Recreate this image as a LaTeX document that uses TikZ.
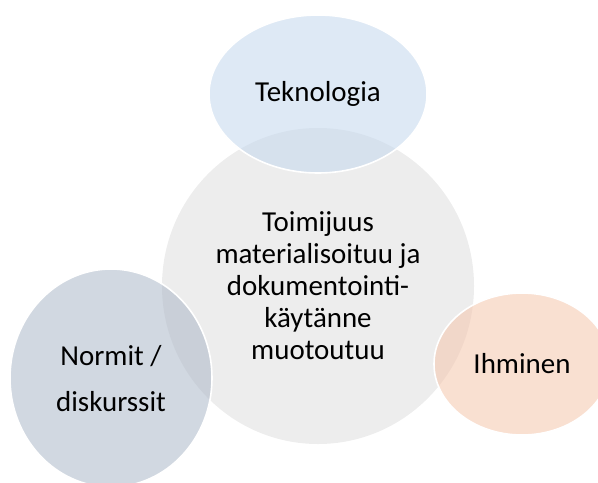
\documentclass[tikz,border=0pt]{standalone}
\usepackage{fontspec}
\setmainfont{Carlito}
\definecolor{greyc}{RGB}{237,237,237}
\definecolor{techc}{RGB}{196,216,237}
\definecolor{normc}{RGB}{173,185,201}
\definecolor{humc}{RGB}{245,199,173}
\begin{document}
\begin{tikzpicture}[x=0.75pt,y=-0.75pt,
  lbl/.style={font=\fontsize{21.7}{24}\selectfont, align=center, text=black},
  widelbl/.style={font=\fontsize{21.7}{34.5}\selectfont, align=center, text=black},
  bubble/.style={draw=white, line width=1.2pt, fill opacity=0.56}]
\useasboundingbox (0,0) rectangle (598,482);
\fill[greyc] (318,286) ellipse [x radius=156, y radius=158];
\node[lbl] (core) at (318,286) {Toimijuus\\materialisoituu ja\\dokumentointi-\\käytänne\\muotoutuu};
\filldraw[bubble, fill=techc] (318,94) ellipse [x radius=109, y radius=79];
\node[lbl] (tech) at (318,94) {Teknologia};
\filldraw[bubble, fill=normc] (111,378) ellipse [x radius=101, y radius=109];
\node[widelbl] (norm) at (111,379) {Normit /\\diskurssit};
\filldraw[bubble, fill=humc] (522,364) ellipse [x radius=88, y radius=71];
\node[lbl] (hum) at (522,364) {Ihminen};
\end{tikzpicture}
\end{document}
